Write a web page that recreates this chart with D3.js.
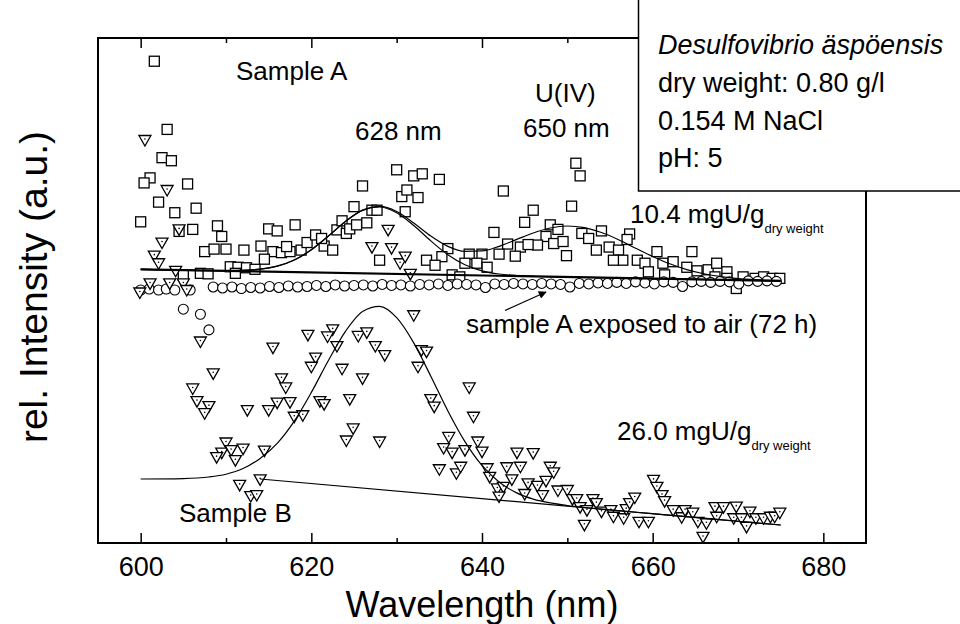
<!DOCTYPE html>
<html>
<head>
<meta charset="utf-8">
<script src="https://cdn.jsdelivr.net/npm/d3@7"></script>
<style>
  body { margin: 0; background: #fff; }
  svg { font-family: "Liberation Sans", Arial, sans-serif; }
</style>
</head>
<body>
<div id="chart"></div>
<script>
// Sample A (squares): [wavelength nm, rel. intensity]
var sampleA = [
  [601.6,95.4],[603.1,81.9],[602.5,76.3],[603.6,75.7],[601.1,72.3],[600.4,71.3],[605.5,71.1],[602.1,67.5],
  [606.5,66.3],[604.0,65.4],[600.0,63.6],[604.5,61.7],[606.1,62.1],[609.0,62.8],[609.5,60.7],[607.5,57.7],
  [608.6,58.2],[610.0,58.2],[612.1,58.0],[615.0,62.2],[616.0,61.8],[618.1,63.0],[614.1,58.8],[615.5,57.7],
  [614.5,56.2],[616.5,57.5],[617.5,57.7],[617.1,58.7],[618.8,58.0],[619.5,59.5],[620.5,61.0],[621.5,58.8],
  [622.5,58.0],[621.2,60.3],[623.0,62.0],[623.6,63.8],[624.1,61.3],[624.5,62.2],[625.3,63.0],[626.5,63.4],
  [625.0,66.6],[626.0,70.7],[627.1,65.9],[627.7,65.9],[630.0,73.9],[630.6,68.6],[631.0,65.6],[631.2,69.9],
  [610.5,54.7],[611.4,54.6],[612.4,54.5],[613.4,54.2],[607.0,53.4],[607.9,53.3],[605.0,53.1],[611.1,53.4],
  [628.0,56.0],[632.0,72.7],[633.0,73.1],[635.0,72.0],[632.5,68.4],[642.5,69.7],[646.0,65.9],[650.5,66.7],
  [651.0,75.2],[651.5,72.7],[645.0,63.5],[641.4,61.5],[648.0,63.0],[648.9,62.1],[647.5,60.7],[646.5,59.0],
  [648.4,59.3],[649.5,59.7],[649.9,56.9],[643.0,59.2],[644.5,58.6],[643.9,56.8],[645.4,59.1],[642.0,57.2],
  [640.0,57.2],[638.5,57.2],[636.0,58.3],[635.3,56.7],[633.5,56.0],[634.5,55.0],[638.0,55.4],[639.4,55.4],
  [640.6,54.6],[636.5,53.1],[637.4,52.7],[651.7,61.3],[652.5,60.3],[654.0,61.8],[653.4,58.0],[654.9,58.6],
  [656.0,58.0],[656.5,56.0],[655.4,56.0],[657.3,61.2],[657.0,60.1],[658.2,56.0],[659.1,55.4],[659.5,53.7],
  [660.5,57.7],[661.2,55.4],[662.4,55.7],[664.0,54.6],[664.6,57.7],[665.2,53.9],[661.4,53.1],[666.5,54.1],
  [667.5,55.4],[667.3,52.7],[668.7,53.7],[669.8,50.4],[668.7,52.4],[670.6,52.7],[672.0,52.4],[673.0,52.7],
  [674.0,52.4],[674.9,52.4]
];

// Sample B (triangles)
var sampleB = [
  [600.5,79.8],[603.1,69.9],[604.5,62.1],[602.5,59.5],[601.6,56.9],[602.1,55.4],[604.1,53.9],[627.1,58.6],
  [629.0,62.0],[629.4,58.4],[630.4,55.4],[631.0,56.7],[631.6,53.3],[599.9,49.6],[601.1,51.4],[603.4,51.4],
  [605.0,51.4],[605.4,50.1],[607.0,39.9],[608.5,33.6],[606.1,30.6],[606.6,28.1],[608.0,27.1],[607.5,25.7],
  [615.5,38.7],[619.6,41.2],[622.5,42.3],[621.9,40.9],[623.0,39.0],[620.5,36.7],[620.0,34.9],[616.5,32.6],
  [617.0,30.8],[625.5,41.0],[626.5,41.7],[627.5,39.0],[628.6,37.2],[623.6,34.5],[626.0,32.6],[612.5,26.3],
  [615.0,26.3],[616.0,27.8],[617.5,27.9],[618.0,25.0],[619.0,25.3],[621.0,28.1],[621.5,27.5],[624.5,28.5],
  [624.9,22.7],[624.1,20.3],[628.0,20.1],[610.0,19.9],[609.5,17.9],[608.9,17.0],[610.6,18.4],[612.0,18.7],
  [611.1,16.4],[614.5,18.3],[611.6,11.5],[614.0,12.6],[612.9,9.3],[613.6,9.5],
  [632.0,45.1],[632.9,38.2],[633.5,37.9],[632.5,34.9],[638.5,30.8],[639.0,25.0],[634.0,28.5],[634.4,27.0],
  [636.1,21.0],[635.5,18.8],[636.5,17.9],[638.0,18.4],[639.5,20.1],[640.0,18.1],[635.0,14.6],[637.0,13.8],
  [637.5,15.1],[640.6,14.8],[640.9,13.1],[641.8,10.8],[642.5,11.1],[642.0,9.2],[642.9,15.0],[643.5,12.6],
  [644.1,17.9],[644.5,15.1],[646.0,17.8],[645.0,9.7],[645.4,11.8],[646.5,11.3],[647.1,9.5],[647.5,12.3],
  [648.0,15.1],[648.4,14.0],[648.9,10.4],[650.0,10.5],[650.6,8.7],[651.1,8.7],[651.5,7.1],[652.0,3.6],
  [652.3,6.5],[653.0,8.7],[653.4,7.9],[654.0,6.2],[655.1,6.5],[655.4,5.2],[656.6,4.9],[656.9,6.7],
  [657.3,7.9],[657.9,9.0],[658.4,4.2],[659.5,4.2],[660.1,12.5],[660.5,11.1],[661.1,9.5],[661.4,8.3],
  [662.4,6.5],[663.4,5.1],[663.8,6.5],[664.7,6.0],[665.3,4.2],[666.3,3.9],[667.3,7.1],[668.3,7.1],
  [669.8,7.2],[671.4,6.2],[669.5,4.9],[670.4,4.9],[667.5,5.2],[672.1,4.9],[673.0,4.9],[673.8,5.2],
  [674.3,5.2],[674.9,6.0],[671.0,3.2],[665.9,1.2]
];

// Sample A exposed to air (circles)
var airNm = [600.0,601.0,602.1,603.0,604.0,605.8,605.0,607.0,608.0,
  608.5,609.6,610.7,611.8,612.9,614.0,615.1,616.2,617.3,618.4,619.5,620.6,621.7,622.8,623.9,625.0,
  626.1,627.2,628.3,629.4,630.5,631.6,632.7,633.8,634.9,636.0,637.1,638.2,639.3,640.4,641.5,642.6,
  643.7,644.8,645.9,647.0,648.1,649.2,650.3,651.4,652.5,653.6,654.7,655.8,656.9,658.0,659.1,660.2,
  661.3,662.4,663.5,664.6,665.7,666.8,667.9,669.0,670.1,671.2,672.3,673.4,674.5];
var airVal = [50.1,50.3,50.1,50.3,50.1,50.1,46.3,45.3,42.2,
  50.7,50.5,50.7,50.4,50.6,50.5,50.8,50.6,50.9,50.7,50.8,51.0,50.8,51.1,50.9,51.0,
  51.1,50.9,51.2,51.0,51.1,50.9,51.2,51.1,51.3,51.0,51.3,51.2,51.1,50.6,51.3,51.2,
  51.4,51.3,51.2,51.4,51.3,51.2,50.7,51.4,51.3,51.5,51.4,51.6,51.4,51.7,51.5,51.3,
  51.7,51.6,50.8,51.7,51.8,51.6,51.8,51.7,51.3,51.9,51.8,51.9,51.8];

// fit curves
var fitNm = [600,605,610,612,614,616,618,620,622,624,626,628,630,632,634,636,638,640,642,644,646,648,650,652,654,656,658,660,662,664,666,668,670,672,675];
var fitA = [54.2,54.05,53.94,53.99,54.22,54.82,56.04,58.06,60.78,63.69,65.91,66.65,65.65,63.37,60.77,58.73,57.74,57.83,58.75,60.07,61.39,62.37,62.77,62.45,61.49,60.06,58.38,56.74,55.29,54.14,53.31,52.74,52.37,52.14,51.94];
var peak628Nm = [600,610,614,616,618,620,622,624,626,628,630,632,634,636,638,640,642,644,646,650,675];
var peak628 = [54.2,53.94,54.22,54.82,56.04,58.06,60.77,63.67,65.86,66.53,65.39,62.86,59.82,57.09,55.11,53.90,53.27,52.97,52.82,52.67,51.9];
var baseANm = [600,675];
var baseA = [54.2,51.9];

var fitBNm = [600,605,608,610,612,614,616,618,620,622,624,626,628,630,632,634,636,638,640,642,644,646,648,650,652,655,660,665,670,675];
var fitB = [12.67,12.76,13.07,13.62,14.74,16.75,19.71,24.12,29.82,36.14,41.92,45.86,46.86,44.62,39.63,33.03,26.15,20.08,15.35,12.08,9.98,8.70,7.93,7.42,7.03,6.55,5.80,5.06,4.31,3.56];
var baseBNm = [614,675];
var baseB = [12.67,3.56];

var xTicks = [600,620,640,660,680];
var xMinor = [610,630,650,670];

function init() {
    var w = 960, h = 624;
    var left = 98, right = 866, top = 38, bottom = 543;

    var svg = d3.select("#chart").append("svg")
        .attr("width", w).attr("height", h);

    var x = d3.scaleLinear().domain([595, 685]).range([left, right]);
    var y = d3.scaleLinear().domain([0, 100]).range([bottom, top]);

    // axes with inward ticks
    var gb = svg.append("g").attr("transform", "translate(0," + bottom + ")")
        .call(d3.axisBottom(x).tickValues(xTicks).tickSize(-10).tickPadding(14).tickFormat(d3.format("d")));
    svg.append("g").attr("transform", "translate(0," + bottom + ")")
        .call(d3.axisBottom(x).tickValues(xMinor).tickSize(-5).tickFormat(""));
    svg.append("g").attr("transform", "translate(0," + top + ")")
        .call(d3.axisTop(x).tickValues(xTicks).tickSize(-10).tickFormat(""));
    svg.append("g").attr("transform", "translate(0," + top + ")")
        .call(d3.axisTop(x).tickValues(xMinor).tickSize(-5).tickFormat(""));
    svg.selectAll(".domain").remove();
    svg.selectAll(".tick line").attr("stroke", "#000").attr("stroke-width", 1.5);
    gb.selectAll("text").attr("font-size", 27).attr("fill", "#000")
        .attr("font-family", "Liberation Sans, Arial, sans-serif");

    // squares
    svg.append("g").selectAll("rect").data(sampleA).enter().append("rect")
        .attr("x", function(d) { return x(d[0]) - 5; })
        .attr("y", function(d) { return y(d[1]) - 5; })
        .attr("width", 10).attr("height", 10)
        .attr("fill", "#fff").attr("stroke", "#000").attr("stroke-width", 1.3);

    // circles
    svg.append("g").selectAll("circle").data(airNm).enter().append("circle")
        .attr("cx", function(d) { return x(d); })
        .attr("cy", function(d, i) { return y(airVal[i]); })
        .attr("r", 5)
        .attr("fill", "#fff").attr("stroke", "#000").attr("stroke-width", 1.1);

    // triangles with centre dot
    var tri = svg.append("g").selectAll("g").data(sampleB).enter().append("g")
        .attr("transform", function(d) { return "translate(" + x(d[0]) + "," + y(d[1]) + ")"; });
    tri.append("path").attr("d", "M-6,-4.5L6,-4.5L0,6Z")
        .attr("fill", "#fff").attr("stroke", "#000").attr("stroke-width", 1.3);
    tri.append("circle").attr("cx", 0).attr("cy", -1).attr("r", 0.8).attr("fill", "#000");

    // fit lines
    var line = d3.line().curve(d3.curveMonotoneX)
        .x(function(d) { return x(d[0]); }).y(function(d) { return y(d[1]); });
    function draw(nm, vals, sw) {
        svg.append("path").datum(nm.map(function(v, i) { return [v, vals[i]]; }))
            .attr("d", line).attr("fill", "none").attr("stroke", "#000").attr("stroke-width", sw);
    }
    draw(baseANm, baseA, 2.2);
    draw(peak628Nm, peak628, 1.2);
    draw(fitNm, fitA, 1.2);
    draw(baseBNm, baseB, 1.2);
    draw(fitBNm, fitB, 1.2);

    // frame
    svg.append("rect").attr("x", left).attr("y", top)
        .attr("width", right - left).attr("height", bottom - top)
        .attr("fill", "none").attr("stroke", "#000").attr("stroke-width", 2);

    // arrow
    svg.append("defs").append("marker").attr("id", "ah")
        .attr("viewBox", "0 0 10 10").attr("refX", 9).attr("refY", 5)
        .attr("markerWidth", 10).attr("markerHeight", 8).attr("markerUnits", "userSpaceOnUse")
        .attr("orient", "auto")
        .append("path").attr("d", "M0,0L10,5L0,10Z").attr("fill", "#000");
    svg.append("line").attr("x1", 505).attr("y1", 310.5).attr("x2", 546).attr("y2", 292)
        .attr("stroke", "#000").attr("stroke-width", 1.2).attr("marker-end", "url(#ah)");

    // annotations
    function label(tx, ty, str, size, extra) {
        var t = svg.append("text").attr("x", tx).attr("y", ty)
            .attr("font-size", size).attr("fill", "#000").text(str);
        if (extra) t.attr("font-style", extra);
        return t;
    }
    label(236, 80, "Sample A", 26);
    label(355, 140, "628 nm", 26);
    label(535, 102, "U(IV)", 26);
    label(523, 137, "650 nm", 26);
    label(466, 333, "sample A exposed to air (72 h)", 26);
    label(179, 522, "Sample B", 26);

    var t1 = label(630, 223, "10.4 mgU/g", 26);
    t1.append("tspan").attr("font-size", 13).attr("dy", 10).text("dry weight");
    var t2 = label(617, 440, "26.0 mgU/g", 26);
    t2.append("tspan").attr("font-size", 13).attr("dy", 10).text("dry weight");

    // info box
    svg.append("rect").attr("x", 638.5).attr("y", -2).attr("width", 340).attr("height", 193)
        .attr("fill", "#fff").attr("stroke", "#000").attr("stroke-width", 1.5);
    label(658, 54, "Desulfovibrio äspöensis", 27, "italic");
    label(658, 92, "dry weight: 0.80 g/l", 27);
    label(658, 130, "0.154 M NaCl", 27);
    label(658, 167, "pH: 5", 27);

    // axis titles
    svg.append("text").attr("x", (left + right) / 2).attr("y", 617)
        .attr("text-anchor", "middle").attr("font-size", 36).text("Wavelength (nm)");
    svg.append("text").attr("transform", "translate(47,287) rotate(-90)")
        .attr("text-anchor", "middle").attr("font-size", 39).text("rel. Intensity (a.u.)");
}

window.onload = init;
</script>
</body>
</html>
